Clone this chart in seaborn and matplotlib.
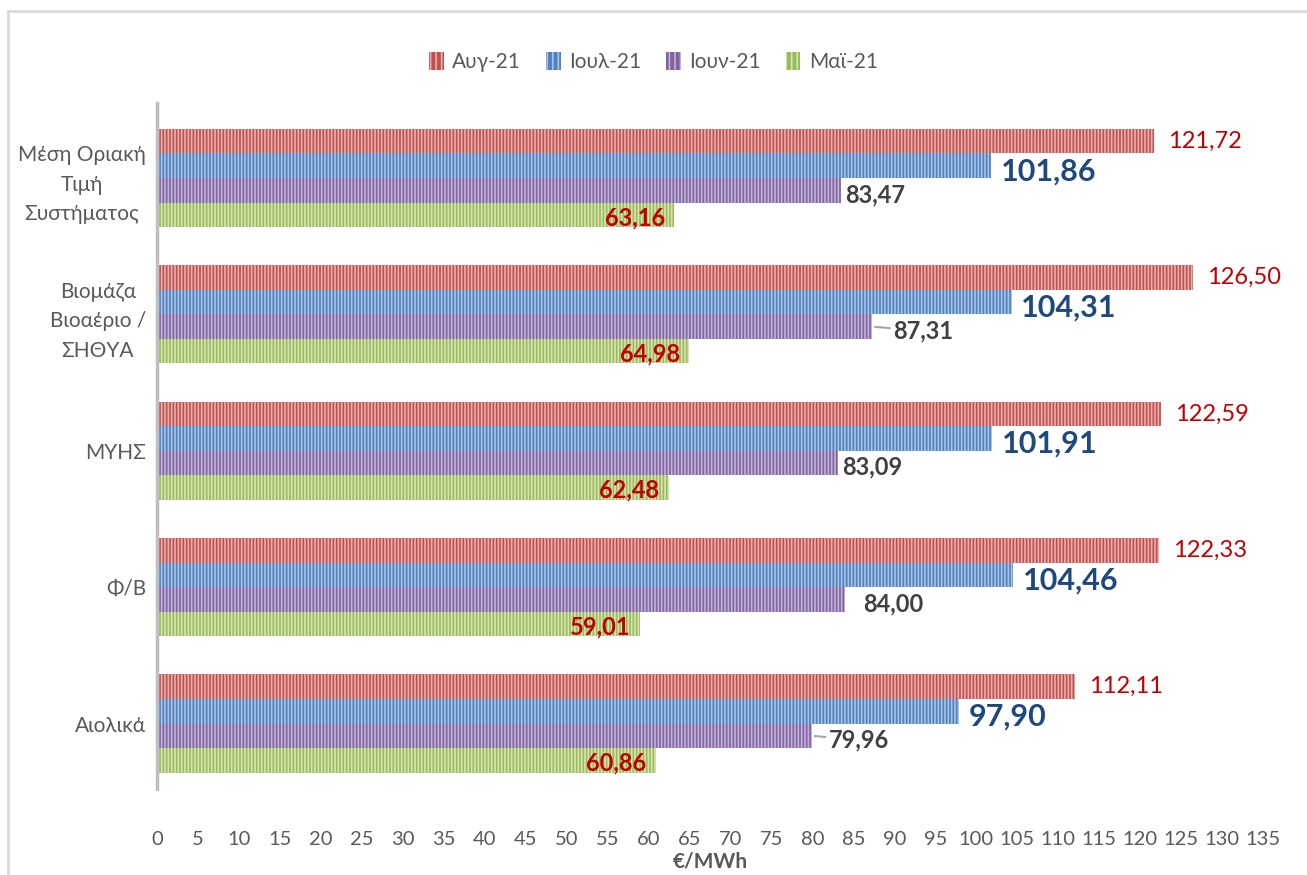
import seaborn as sns
import matplotlib.pyplot as plt
import pandas as pd
from matplotlib.patches import Patch
from matplotlib.lines import Line2D

# categories (top to bottom) and monthly values, €/MWh
categories = ['Μέση Οριακή\nΤιμή\nΣυστήματος', 'Βιομάζα\nΒιοαέριο /\nΣΗΘΥΑ', 'ΜΥΗΣ', 'Φ/Β', 'Αιολικά']
months = ['Αυγ-21', 'Ιουλ-21', 'Ιουν-21', 'Μαϊ-21']
aug = [121.72, 126.50, 122.59, 122.33, 112.11]
jul = [101.86, 104.31, 101.91, 104.46, 97.90]
jun = [83.47, 87.31, 83.09, 84.00, 79.96]
may = [63.16, 64.98, 62.48, 59.01, 60.86]
x_ticks = list(range(0, 140, 5))

rows = []
for m, vals in zip(months, [aug, jul, jun, may]):
    for c, v in zip(categories, vals):
        rows.append({'cat': c, 'month': m, 'value': v})
df = pd.DataFrame(rows)

colors = ['#C0504D', '#4F81BD', '#8064A2', '#9BBB59']
stripes = ['#E8B0AE', '#A9C4E6', '#C3B3D9', '#D4E4B5']

sns.set_style('white')
plt.rcParams['font.family'] = ['Lato', 'DejaVu Sans']
plt.rcParams['hatch.linewidth'] = 1.2

fig = plt.figure(figsize=(13.07, 8.75), dpi=100)
ax = fig.add_axes([157 / 1307, 86 / 875, 1106 / 1307, 686 / 875])

sns.barplot(data=df, y='cat', x='value', hue='month', order=categories,
            hue_order=months, palette=colors, width=0.72, orient='h',
            saturation=1, legend=False, ax=ax)

for cont, sc in zip(ax.containers, stripes):
    for bar in cont:
        bar.set_hatch('|||||')
        bar.set_edgecolor(sc)
        bar.set_linewidth(0)

ax.set_xlim(0, 135)
ax.set_ylim(4.48, -0.55)
ax.set_xticks(x_ticks)
ax.tick_params(axis='x', length=0, labelsize=14.5, labelcolor='#595959', pad=30)
ax.tick_params(axis='y', length=0, labelsize=15, labelcolor='#595959', pad=8)
for t in ax.get_yticklabels():
    t.set_multialignment('center')
    t.set_linespacing(1.6)
ax.set_ylabel('')
ax.set_xlabel('€/MWh', fontsize=15, fontweight='bold', color='#595959', labelpad=3)
for s in ['top', 'right', 'bottom']:
    ax.spines[s].set_visible(False)
ax.spines['left'].set_color('#BFBFBF')
ax.spines['left'].set_linewidth(2.5)

# data labels
lab_style = [
    dict(color='#C00000', fontsize=17, fontweight='normal'),
    dict(color='#1F497D', fontsize=22, fontweight='bold'),
    dict(color='#404040', fontsize=17, fontweight='bold'),
    dict(color='#C00000', fontsize=17, fontweight='bold'),
]
jun_shift = [0, 12, 0, 10, 9]
for i, (cont, vals) in enumerate(zip(ax.containers, [aug, jul, jun, may])):
    for j, (bar, v) in enumerate(zip(cont, vals)):
        yc = bar.get_y() + bar.get_height() / 2
        txt = f'{v:.2f}'.replace('.', ',')
        if i == 0:
            ax.annotate(txt, (v, yc), xytext=(10, 0), textcoords='offset points',
                        ha='left', va='center', **lab_style[i])
        elif i == 1:
            ax.annotate(txt, (v, yc), xytext=(7, -4), textcoords='offset points',
                        ha='left', va='center', **lab_style[i])
        elif i == 2:
            sh = jun_shift[j]
            arrow = dict(arrowstyle='-', color='#A6A6A6', lw=1.5, shrinkA=0, shrinkB=2) if sh and j != 3 else None
            ax.annotate(txt, (v, yc), xytext=(3 + sh, -3), textcoords='offset points',
                        ha='left', va='center', arrowprops=arrow, **lab_style[i])
        else:
            ax.annotate(txt, (v, yc), xytext=(-7, -2), textcoords='offset points',
                        ha='right', va='center', **lab_style[i])

handles = [Patch(facecolor=c, edgecolor=s, hatch='|||', linewidth=0) for c, s in zip(colors, stripes)]
fig.legend(handles, months, loc='center', bbox_to_anchor=(0.5, 1 - 62 / 875), ncol=4,
           frameon=False, fontsize=15, labelcolor='#595959', handlelength=0.7,
           handleheight=1.0, handletextpad=0.4, columnspacing=1.2)

# outer chart frame (left and top edges visible)
fig.add_artist(Line2D([8 / 1307, 8 / 1307], [0, 1 - 11 / 875], color='#D9D9D9', lw=2))
fig.add_artist(Line2D([8 / 1307, 1], [1 - 11 / 875, 1 - 11 / 875], color='#D9D9D9', lw=2))

fig.savefig('out.png', dpi=100)
